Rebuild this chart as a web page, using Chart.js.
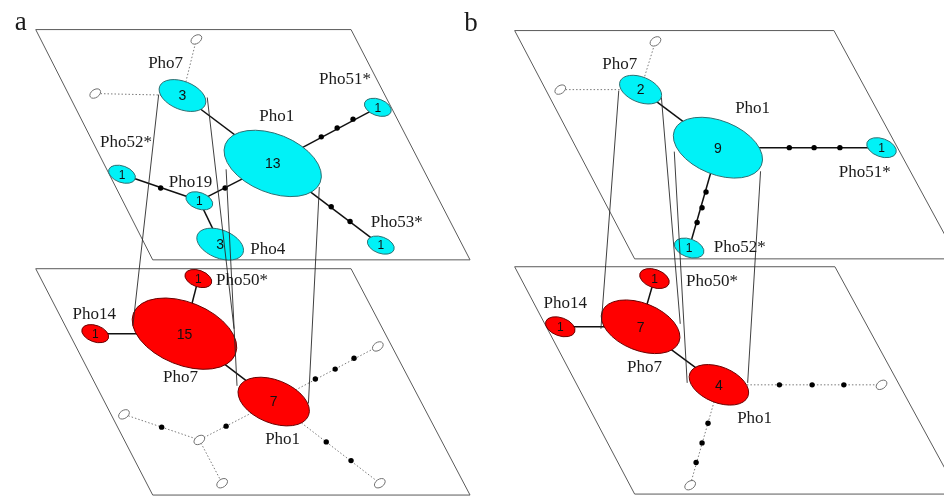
<!DOCTYPE html>
<html><head><meta charset="utf-8">
<script src="https://cdn.jsdelivr.net/npm/chart.js@4.4.0/dist/chart.umd.min.js"></script>
<style>html,body{margin:0;padding:0;background:#fff;overflow:hidden}#wrap{width:948px;height:502px;position:relative}</style>
</head><body><div id="wrap"><canvas id="c"></canvas></div>
<script>
// ---------- DATA ----------
const panelLetters = ['a', 'b'];
const panelLetterX = [17, 471];
const panelLetterY = [19, 20];

// parallelogram planes (corners)
const planeATopX = [32, 350, 470, 150], planeATopY = [26, 26, 260, 260];
const planeABotX = [32, 350, 470, 150], planeABotY = [269, 269, 499, 499];
const planeBTopX = [515, 837, 962, 636], planeBTopY = [27, 27, 259, 259];
const planeBBotX = [515, 838, 963, 636], planeBBotY = [267, 267, 498, 498];

// panel a, upper layer (cyan)
const aTopCounts = [3, 13, 1, 1, 1, 3, 1, 0, 0];
const aTopX = [180, 271, 377, 119, 197, 218, 380, 194, 92];
const aTopY = [93, 162, 105, 173, 200, 244, 245, 36, 91];
const aTopSolid = [[0, 1], [3, 4], [4, 1], [4, 5], [1, 2], [1, 6]];
const aTopDotted = [[0, 7], [0, 8]];
const aTopStepX = [320, 336, 352, 330, 349, 158, 223];
const aTopStepY = [135, 126, 117, 206, 221, 187, 187];
const aTopLabels = ['Pho7', 'Pho1', 'Pho51*', 'Pho52*', 'Pho19', 'Pho4', 'Pho53*'];
const aTopLabelX = [163, 275, 344, 123, 188, 266, 396];
const aTopLabelY = [61, 114, 77, 141, 181, 249, 222];

// panel a, lower layer (red)
const aBotCounts = [15, 1, 1, 7, 0, 0, 0, 0, 0];
const aBotX = [182, 196, 92, 272, 377, 121, 197, 220, 379];
const aBotY = [335, 279, 335, 404, 348, 417, 443, 487, 487];
const aBotSolid = [[0, 1], [0, 2], [0, 3]];
const aBotDotted = [[3, 4], [3, 8], [3, 6], [6, 5], [6, 7]];
const aBotStepX = [314, 334, 353, 325, 350, 224, 159];
const aBotStepY = [381, 371, 360, 445, 464, 429, 430];
const aBotLabels = ['Pho7', 'Pho50*', 'Pho14', 'Pho1'];
const aBotLabelX = [178, 240, 91, 281];
const aBotLabelY = [380, 281, 316, 443];

// panel b, upper layer (cyan)
const bTopCounts = [2, 9, 1, 1, 0, 0];
const bTopX = [642, 720, 885, 691, 657, 561];
const bTopY = [87, 146, 146, 248, 38, 87];
const bTopSolid = [[0, 1], [1, 2], [1, 3]];
const bTopDotted = [[0, 4], [0, 5]];
const bTopStepX = [792, 817, 843, 708, 704, 699];
const bTopStepY = [146, 146, 146, 191, 207, 222];
const bTopLabels = ['Pho7', 'Pho1', 'Pho51*', 'Pho52*'];
const bTopLabelX = [621, 755, 868, 742];
const bTopLabelY = [62, 106, 171, 247];

// panel b, lower layer (red)
const bBotCounts = [7, 1, 1, 4, 0, 0];
const bBotX = [642, 656, 561, 721, 885, 692];
const bBotY = [328, 279, 328, 387, 387, 489];
const bBotSolid = [[0, 1], [0, 2], [0, 3]];
const bBotDotted = [[3, 4], [3, 5]];
const bBotStepX = [782, 815, 847, 710, 704, 698];
const bBotStepY = [387, 387, 387, 426, 446, 466];
const bBotLabels = ['Pho7', 'Pho50*', 'Pho14', 'Pho1'];
const bBotLabelX = [646, 714, 566, 757];
const bBotLabelY = [369, 282, 304, 421];

// links between the two layers
const aLinkX1 = [156, 205, 224, 318], aLinkY1 = [92, 95, 168, 186];
const aLinkX2 = [130, 232, 235, 307], aLinkY2 = [327, 330, 388, 406];
const bLinkX1 = [620, 663, 676, 763], bLinkY1 = [88, 95, 150, 170];
const bLinkX2 = [602, 682, 689, 750], bLinkY2 = [330, 325, 385, 385];

// ---------- BUILD ----------
const pts = (xs, ys) => xs.map((v, i) => ({ x: v, y: ys[i] }));
const datasets = [];
function line(data, color, width, dash, order) {
  datasets.push({ data, showLine: true, pointRadius: 0, borderColor: color, borderWidth: width,
    borderDash: dash || [], fill: false, order, tension: 0 });
}
function plane(xs, ys) {
  const p = pts(xs, ys); p.push(p[0]);
  line(p, '#5a5a5a', 1, null, 9);
}
plane(planeATopX, planeATopY); plane(planeABotX, planeABotY);
plane(planeBTopX, planeBTopY); plane(planeBBotX, planeBBotY);

function layer(counts, xs, ys, solid, dotted, sx, sy, labels, lx, ly, k, fillC, strokeC) {
  dotted.forEach(([i, j]) => line([{ x: xs[i], y: ys[i] }, { x: xs[j], y: ys[j] }], '#7a7a7a', 1, [1.5, 2], 8));
  solid.forEach(([i, j]) => line([{ x: xs[i], y: ys[i] }, { x: xs[j], y: ys[j] }], '#111', 1.5, null, 7));
  datasets.push({ data: pts(sx, sy), pointRadius: 2.7, pointBackgroundColor: '#000', pointBorderWidth: 0, order: 6 });
  datasets.push({ data: pts(xs, ys), pointRadius: 0, order: 5, nodeStyle: { counts, k, fillC, strokeC } });
  datasets.push({ data: pts(lx, ly), pointRadius: 0, order: 3, labelTexts: labels, labelFont: '17px "Liberation Serif", "Times New Roman", serif' });
}
layer(aTopCounts, aTopX, aTopY, aTopSolid, aTopDotted, aTopStepX, aTopStepY, aTopLabels, aTopLabelX, aTopLabelY, 117, '#00f2f7', '#2f6f72');
layer(aBotCounts, aBotX, aBotY, aBotSolid, aBotDotted, aBotStepX, aBotStepY, aBotLabels, aBotLabelX, aBotLabelY, 117, '#ff0000', '#6a0000');
layer(bTopCounts, bTopX, bTopY, bTopSolid, bTopDotted, bTopStepX, bTopStepY, bTopLabels, bTopLabelX, bTopLabelY, 142, '#00f2f7', '#2f6f72');
layer(bBotCounts, bBotX, bBotY, bBotSolid, bBotDotted, bBotStepX, bBotStepY, bBotLabels, bBotLabelX, bBotLabelY, 142, '#ff0000', '#6a0000');

aLinkX1.forEach((v, i) => line([{ x: v, y: aLinkY1[i] }, { x: aLinkX2[i], y: aLinkY2[i] }], '#2a2a2a', 0.9, null, 4));
bLinkX1.forEach((v, i) => line([{ x: v, y: bLinkY1[i] }, { x: bLinkX2[i], y: bLinkY2[i] }], '#2a2a2a', 0.9, null, 4));

datasets.push({ data: pts(panelLetterX, panelLetterY), pointRadius: 0, order: 2, labelTexts: panelLetters,
  labelFont: '27px "Liberation Serif", "Times New Roman", serif' });

const drawPlugin = {
  id: 'hapDraw',
  afterDatasetDraw(chart, args) {
    const ds = chart.data.datasets[args.index];
    const ctx = chart.ctx;
    const xs = chart.scales.x;
    const unit = Math.abs(xs.getPixelForValue(1) - xs.getPixelForValue(0));
    if (ds.nodeStyle) {
      const s = ds.nodeStyle;
      args.meta.data.forEach((el, i) => {
        const c = s.counts[i];
        let a, b, rot;
        if (c > 0) {
          const asp = c === 1 ? 1.7 : 1.75;
          a = Math.sqrt(s.k * c * asp); b = a / asp;
          rot = (c === 1 ? 20 : 22) * Math.PI / 180;
        } else { a = 6; b = 4; rot = -35 * Math.PI / 180; }
        ctx.save();
        ctx.beginPath();
        ctx.ellipse(el.x, el.y, a * unit, b * unit, rot, 0, Math.PI * 2);
        ctx.fillStyle = c > 0 ? s.fillC : '#ffffff';
        ctx.fill();
        ctx.lineWidth = 1;
        ctx.strokeStyle = c > 0 ? s.strokeC : '#6f6f6f';
        ctx.stroke();
        if (c > 0) {
          ctx.fillStyle = '#111';
          ctx.font = (c === 1 ? '12px' : '14px') + ' "Liberation Sans", Arial, sans-serif';
          ctx.textAlign = 'center'; ctx.textBaseline = 'middle';
          ctx.fillText(String(c), el.x, el.y + 1);
        }
        ctx.restore();
      });
    }
    if (ds.labelTexts) {
      ctx.save();
      ctx.fillStyle = '#1a1a1a';
      ctx.font = ds.labelFont;
      ctx.textAlign = 'center'; ctx.textBaseline = 'middle';
      args.meta.data.forEach((el, i) => ctx.fillText(ds.labelTexts[i], el.x, el.y));
      ctx.restore();
    }
  }
};

new Chart(document.getElementById('c'), {
  type: 'scatter',
  data: { datasets },
  plugins: [drawPlugin],
  options: {
    animation: false, responsive: true, maintainAspectRatio: false,
    layout: { padding: 0 },
    plugins: { legend: { display: false }, tooltip: { enabled: false } },
    events: [],
    scales: {
      x: { type: 'linear', min: 0, max: 948, display: false },
      y: { type: 'linear', min: 0, max: 502, reverse: true, display: false }
    }
  }
});
</script></body></html>
